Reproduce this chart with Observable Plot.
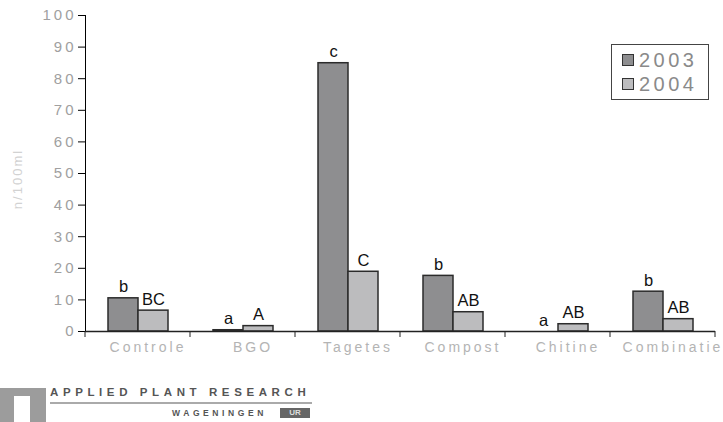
<!DOCTYPE html>
<html>
<head>
<meta charset="utf-8">
<script src="https://cdn.jsdelivr.net/npm/d3@7"></script>
<script src="https://cdn.jsdelivr.net/npm/@observablehq/plot@0.6"></script>
<style>
  html, body { margin: 0; padding: 0; background: #ffffff; }
  #wrap { position: relative; width: 723px; height: 422px; overflow: hidden; font-family: "Liberation Sans", Arial, sans-serif; }
  #chart svg { display: block; }
  #chart g[aria-label="y-axis tick label"] text { letter-spacing: 3px; font-size: 15px; }
  #chart g[aria-label="fx-axis tick label"] text { letter-spacing: 3px; font-size: 14px; }
  #legend { position: absolute; left: 611px; top: 44px; width: 96px; height: 54px; border: 1.5px solid #444; background: #fff; }
  .lrow { position: absolute; left: 10px; height: 22px; display: flex; align-items: center; }
  .sw { width: 10px; height: 10px; border: 1px solid #333; margin-right: 5px; }
  .lt { font-size: 20px; color: #8a8a8a; letter-spacing: 3.5px; line-height: 22px; }
  #logo { position: absolute; left: 0; top: 384px; width: 330px; height: 40px; }
</style>
</head>
<body>
<div id="wrap">
  <div id="chart"></div>
  <div id="legend"></div>
  <div id="logo"></div>
</div>
<script>
const categories = ["Controle", "BGO", "Tagetes", "Compost", "Chitine", "Combinatie"];
const years = ["2003", "2004"];
const values2003 = [10.5, 0.4, 84.9, 17.6, 0, 12.6];
const values2004 = [6.6, 1.7, 18.9, 6.1, 2.3, 3.9];
const letters2003 = ["b", "a", "c", "b", "a", "b"];
const letters2004 = ["BC", "A", "C", "AB", "AB", "AB"];
const yTicks = [0, 10, 20, 30, 40, 50, 60, 70, 80, 90, 100];
const yLabel = "n/100ml";
const colors = {"2003": "#8e8e90", "2004": "#bcbcbe"};

const rows = [];
categories.forEach((c, i) => {
  rows.push({cat: c, year: "2003", value: values2003[i], letter: letters2003[i]});
  rows.push({cat: c, year: "2004", value: values2004[i], letter: letters2004[i]});
});

const plot = Plot.plot({
  width: 723,
  height: 362,
  marginLeft: 82,
  marginRight: 6,
  marginTop: 15,
  marginBottom: 31,
  style: {fontFamily: "'Liberation Sans', Arial, sans-serif", background: "#ffffff"},
  fx: {domain: categories, padding: 0, axis: "bottom", label: null, tickSize: 0, tickPadding: 11},
  x: {domain: years, paddingInner: 0, paddingOuter: 0.7, axis: null},
  y: {domain: [0, 100], ticks: yTicks, tickSize: 7, tickPadding: 2, line: true, label: null},
  color: {domain: years, range: years.map(y => colors[y])},
  marks: [
    Plot.barY(rows, {fx: "cat", x: "year", y: "value", fill: "year", stroke: "#2b2b2b", strokeWidth: 1.5}),
    Plot.ruleY([0], {stroke: "#222", strokeWidth: 1.3}),
    Plot.text(rows, {fx: "cat", x: "year", y: "value", text: "letter", dy: -6, lineAnchor: "bottom", fontSize: 16.5, fill: "#111"})
  ]
});

// style axes
const svg = d3.select(plot);
svg.selectAll('g[aria-label="y-axis tick label"]').attr("fill", "#a0a0a0");
svg.selectAll('g[aria-label="y-axis tick label"] text').attr("fill", "#a0a0a0");
svg.selectAll('g[aria-label="fx-axis tick label"]').attr("fill", "#b4b4b4");
svg.selectAll('g[aria-label="fx-axis tick label"] text').attr("fill", "#b4b4b4").attr("dx", 10);

// separator ticks at facet boundaries
const fx = plot.scale("fx");
const y = plot.scale("y");
const y0 = y.apply(0);
const bounds = categories.map(c => fx.apply(c));
bounds.push(fx.apply(categories[categories.length - 1]) + fx.bandwidth);
svg.append("g").attr("aria-label", "separators")
  .selectAll("line").data(bounds).join("line")
  .attr("x1", d => d).attr("x2", d => d)
  .attr("y1", y0).attr("y2", y0 + 6)
  .attr("stroke", "#222").attr("stroke-width", 1);

// y label
const yMid = (y.apply(0) + y.apply(100)) / 2;
svg.append("text")
  .attr("transform", `translate(22,${yMid + 6}) rotate(-90)`)
  .attr("text-anchor", "middle")
  .attr("fill", "#d2d2d2")
  .style("font-size", "13px").style("letter-spacing", "2px")
  .text(yLabel);

document.getElementById("chart").appendChild(plot);

// legend
const legend = d3.select("#legend");
years.forEach((yr, i) => {
  const row = legend.append("div").attr("class", "lrow").style("top", (4 + i * 24) + "px");
  row.append("div").attr("class", "sw").style("background", colors[yr]);
  row.append("div").attr("class", "lt").text(yr);
});

// logo
const logo = d3.select("#logo");
logo.append("div").style("position", "absolute").style("left", "0px").style("top", "4px")
  .style("width", "46px").style("height", "36px").style("background", "#9c9c9c");
logo.append("div").style("position", "absolute").style("left", "14px").style("top", "12px")
  .style("width", "16px").style("height", "28px").style("background", "#ffffff");
logo.append("div").style("position", "absolute").style("left", "50px").style("top", "2px")
  .style("font-size", "11.5px").style("font-weight", "bold").style("letter-spacing", "4.6px")
  .style("color", "#555").style("white-space", "nowrap").text("APPLIED PLANT RESEARCH");
logo.append("div").style("position", "absolute").style("left", "50px").style("top", "18px")
  .style("width", "262px").style("height", "2px").style("background", "#aaa");
logo.append("div").style("position", "absolute").style("left", "172px").style("top", "24px")
  .style("font-size", "8.5px").style("font-weight", "bold").style("letter-spacing", "3.6px")
  .style("color", "#555").style("white-space", "nowrap").text("WAGENINGEN");
logo.append("div").style("position", "absolute").style("left", "280px").style("top", "24px")
  .style("width", "30px").style("height", "10px").style("background", "#666")
  .style("color", "#ddd").style("font-size", "8px").style("font-weight", "bold")
  .style("text-align", "center").style("line-height", "10px").text("UR");
</script>
</body>
</html>
